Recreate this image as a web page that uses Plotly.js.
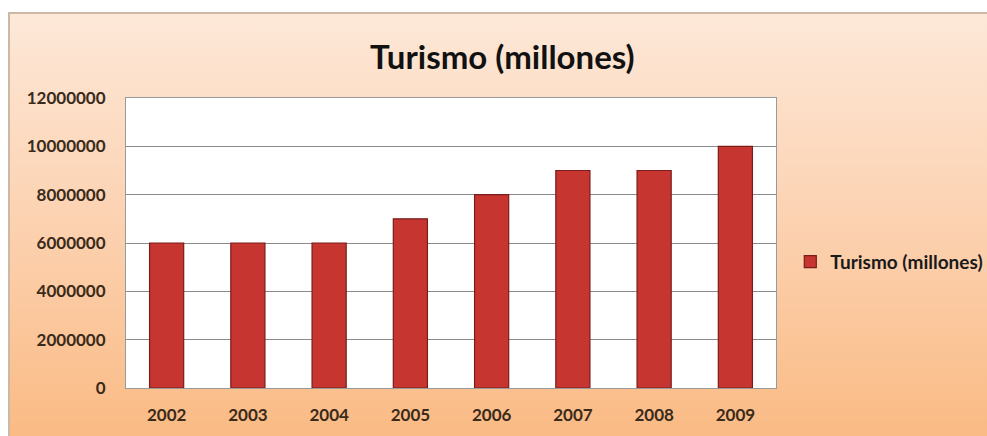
<!DOCTYPE html>
<html>
<head>
<meta charset="utf-8">
<script src="https://cdn.plot.ly/plotly-3.0.1.min.js"></script>
<style>
  html, body { margin: 0; padding: 0; background: #ffffff; }
  #wrap { position: relative; width: 987px; height: 436px; overflow: hidden; }
  #bg { position: absolute; left: 8px; top: 12px; width: 990px; height: 440px;
        background: linear-gradient(to bottom, #fde8d8 0%, #fcd3b3 45%, #fab981 100%);
        border-left: 2px solid #cbb9a6; border-top: 2px solid #cbb9a6; box-sizing: border-box; }
  #chart { position: absolute; left: 0; top: 0; width: 987px; height: 436px; }
</style>
</head>
<body>
<div id="wrap">
  <div id="bg"></div>
  <div id="chart"></div>
</div>
<script>
const years = ["2002", "2003", "2004", "2005", "2006", "2007", "2008", "2009"];
const turismo = [6000000, 6000000, 6000000, 7000000, 8000000, 9000000, 9000000, 10000000];
const seriesName = "Turismo (millones)";
const titleText = "Turismo (millones)";

const font = "Lato, 'Open Sans', sans-serif";

const trace = {
  type: "bar",
  x: years,
  y: turismo,
  name: seriesName,
  showlegend: true,
  marker: { color: "#c63530", line: { color: "#7a1c1a", width: 1.2 } }
};

const layout = {
  width: 987, height: 436,
  margin: { l: 126, r: 211, t: 98, b: 48, autoexpand: false },
  paper_bgcolor: "rgba(0,0,0,0)",
  plot_bgcolor: "#ffffff",
  bargap: 0.58,
  title: {
    text: "<b>" + titleText + "</b>",
    font: { family: font, size: 33, color: "#111111" },
    x: 0.509, xanchor: "center", xref: "container",
    y: 0.869, yanchor: "middle", yref: "container"
  },
  xaxis: {
    type: "category",
    showline: true, linecolor: "#9a9a9a", linewidth: 1, mirror: true,
    ticks: "", ticklabelstandoff: 12,
    tickfont: { family: font, size: 17, color: "#3a2a1a", weight: "bold" },
    fixedrange: true
  },
  yaxis: {
    range: [0, 12000000],
    dtick: 2000000,
    tickformat: "d",
    showline: true, linecolor: "#9a9a9a", linewidth: 1, mirror: true,
    gridcolor: "#8a8a8a", gridwidth: 1,
    zeroline: false,
    ticks: "", ticklabelstandoff: 16,
    tickfont: { family: font, size: 17, color: "#3a2a1a", weight: "bold" },
    fixedrange: true
  },
  legend: {
    x: 1.022, xanchor: "left", xref: "paper",
    y: 0.435, yanchor: "middle",
    bgcolor: "rgba(0,0,0,0)",
    font: { family: font, size: 19, color: "#1a1a1a", weight: "bold" },
    itemwidth: 30
  }
};

Plotly.newPlot("chart", [trace], layout, { displayModeBar: false, staticPlot: true });
</script>
</body>
</html>
